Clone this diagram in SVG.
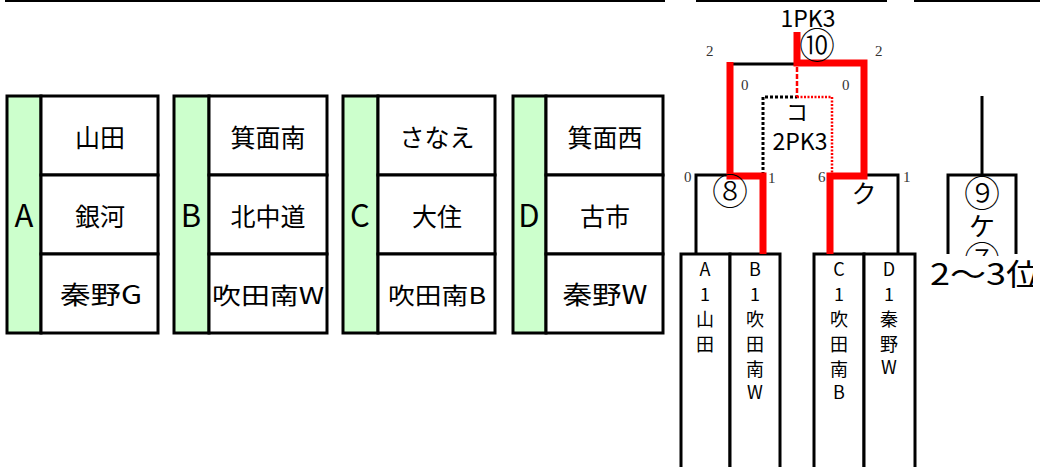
<svg xmlns="http://www.w3.org/2000/svg" width="1040" height="467" viewBox="0 0 1040 467">
<defs>
<style>
.jp{font-family:"Noto Sans CJK JP","Noto Sans",sans-serif;fill:#000}
.num{font-family:"Liberation Serif","DejaVu Serif",serif;font-size:15px;fill:#333}
.box{fill:#fff;stroke:#000;stroke-width:3}
.grp{fill:#ccffcc;stroke:#000;stroke-width:3}
.ln{fill:none;stroke:#000;stroke-width:3}
.red{fill:none;stroke:#ff0000;stroke-width:7}
.nm{font-size:25px;text-anchor:middle}
.lt{font-size:31px;text-anchor:middle}
.vt{font-size:18px;text-anchor:middle}
.circ{font-size:36px;text-anchor:middle;font-weight:300}
</style>
<clipPath id="clipR"><rect x="900" y="240" width="133" height="60"/></clipPath>
</defs>
<rect width="1040" height="467" fill="#fff"/>
<g id="toplines">
<line x1="5" y1="1" x2="665" y2="1" stroke="#000" stroke-width="2"/>
<line x1="696" y1="1" x2="887" y2="1" stroke="#000" stroke-width="2"/>
<line x1="914" y1="1" x2="1040" y2="1" stroke="#000" stroke-width="2"/>
</g>
<g id="groupA">
<rect class="grp" x="7" y="96" width="34" height="237"/>
<rect class="box" x="41" y="96" width="117" height="79"/>
<rect class="box" x="41" y="175" width="117" height="79"/>
<rect class="box" x="41" y="254" width="117" height="79"/>
<text class="jp lt" x="24" y="227">A</text>
<text class="jp nm" x="100" y="147">山田</text>
<text class="jp nm" x="100" y="226">銀河</text>
<text class="jp nm" x="101" y="304" textLength="82" lengthAdjust="spacingAndGlyphs">秦野G</text>
</g>
<g id="groupB">
<rect class="grp" x="174" y="96" width="35" height="237"/>
<rect class="box" x="209" y="96" width="118" height="79"/>
<rect class="box" x="209" y="175" width="118" height="79"/>
<rect class="box" x="209" y="254" width="118" height="79"/>
<text class="jp lt" x="191" y="227">B</text>
<text class="jp nm" x="268" y="147">箕面南</text>
<text class="jp nm" x="268" y="226">北中道</text>
<text class="jp nm" x="268" y="304" style="font-size:23px" textLength="112" lengthAdjust="spacingAndGlyphs">吹田南W</text>
</g>
<g id="groupC">
<rect class="grp" x="343" y="96" width="35" height="237"/>
<rect class="box" x="378" y="96" width="117" height="79"/>
<rect class="box" x="378" y="175" width="117" height="79"/>
<rect class="box" x="378" y="254" width="117" height="79"/>
<text class="jp lt" x="360" y="227">C</text>
<text class="jp nm" x="437" y="147">さなえ</text>
<text class="jp nm" x="437" y="226">大住</text>
<text class="jp nm" x="437" y="304" style="font-size:23px" textLength="98" lengthAdjust="spacingAndGlyphs">吹田南B</text>
</g>
<g id="groupD">
<rect class="grp" x="513" y="96" width="33" height="237"/>
<rect class="box" x="546" y="96" width="117" height="79"/>
<rect class="box" x="546" y="175" width="117" height="79"/>
<rect class="box" x="546" y="254" width="117" height="79"/>
<text class="jp lt" x="529" y="227">D</text>
<text class="jp nm" x="605" y="147">箕面西</text>
<text class="jp nm" x="605" y="226">古市</text>
<text class="jp nm" x="605" y="304" textLength="85" lengthAdjust="spacingAndGlyphs">秦野W</text>
</g>
<g id="teamA1">
<rect class="box" x="681" y="254" width="49" height="216"/>
<text class="jp vt"><tspan x="705" y="276">A</tspan><tspan x="705" y="301">1</tspan><tspan x="705" y="326">山</tspan><tspan x="705" y="351">田</tspan></text>
</g>
<g id="teamB1">
<rect class="box" x="730" y="254" width="50" height="216"/>
<text class="jp vt"><tspan x="755" y="276">B</tspan><tspan x="755" y="301">1</tspan><tspan x="755" y="326">吹</tspan><tspan x="755" y="351">田</tspan><tspan x="755" y="376">南</tspan><tspan x="755" y="399">W</tspan></text>
</g>
<g id="teamC1">
<rect class="box" x="814" y="254" width="50" height="216"/>
<text class="jp vt"><tspan x="839" y="276">C</tspan><tspan x="839" y="301">1</tspan><tspan x="839" y="326">吹</tspan><tspan x="839" y="351">田</tspan><tspan x="839" y="376">南</tspan><tspan x="839" y="399">B</tspan></text>
</g>
<g id="teamD1">
<rect class="box" x="864" y="254" width="51" height="216"/>
<text class="jp vt"><tspan x="889" y="276">D</tspan><tspan x="889" y="301">1</tspan><tspan x="889" y="326">秦</tspan><tspan x="889" y="351">野</tspan><tspan x="889" y="374">W</tspan></text>
</g>
<g id="connectors">
<path class="ln" d="M696,254 V175 H763"/>
<path class="ln" d="M830,175 H898 V254"/>
<path class="ln" d="M730,64 H797"/>
<path d="M763,175 V97 H797" fill="none" stroke="#000" stroke-width="3" stroke-dasharray="3,2"/>
<path d="M797,97 H832 V175" fill="none" stroke="#ff0000" stroke-width="2.5" stroke-dasharray="2,1.5"/>
<path d="M797,67 V97" fill="none" stroke="#ff0000" stroke-width="2.5" stroke-dasharray="5,2"/>
<path class="red" d="M730,62 V176 H763 V254"/>
<path class="red" d="M797,32 V63 H864 V176 H830 V254"/>
<path class="ln" d="M982,96 V175"/>
<path class="ln" d="M948,254 V175 H1016 V254"/>
</g>
<g id="match8">
<text class="num" x="684" y="182">0</text>
<text class="num" x="768" y="183">1</text>
<text class="jp circ" x="730" y="205">⑧</text>
</g>
<g id="matchKu">
<text class="num" x="818" y="182">6</text>
<text class="num" x="903" y="182">1</text>
<text class="jp" x="864" y="203" font-size="25" text-anchor="middle" fill="#333">ク</text>
</g>
<g id="match10">
<text class="jp" x="808" y="27" font-size="23" text-anchor="middle">1PK3</text>
<text class="jp circ" x="817" y="59" font-size="33">⑩</text>
<text class="num" x="706" y="56" font-size="20">2</text>
<text class="num" x="875" y="56" font-size="20">2</text>
<text class="num" x="741" y="90" font-size="20">0</text>
<text class="num" x="842" y="90" font-size="20">0</text>
<text class="jp" x="797" y="120" font-size="22" text-anchor="middle" fill="#333">コ</text>
<text class="jp" x="800" y="150" font-size="23" text-anchor="middle">2PK3</text>
</g>
<g id="match9">
<text class="jp circ" x="982" y="207">⑨</text>
<text class="jp" x="982" y="236" font-size="26" text-anchor="middle">ケ</text>
<text class="jp circ" x="982" y="273">⑦</text>
<rect x="925" y="256" width="115" height="40" fill="#fff"/>
<text class="jp" x="930" y="285" font-size="30" textLength="112" lengthAdjust="spacingAndGlyphs" clip-path="url(#clipR)">2～3位</text>
</g>
</svg>
